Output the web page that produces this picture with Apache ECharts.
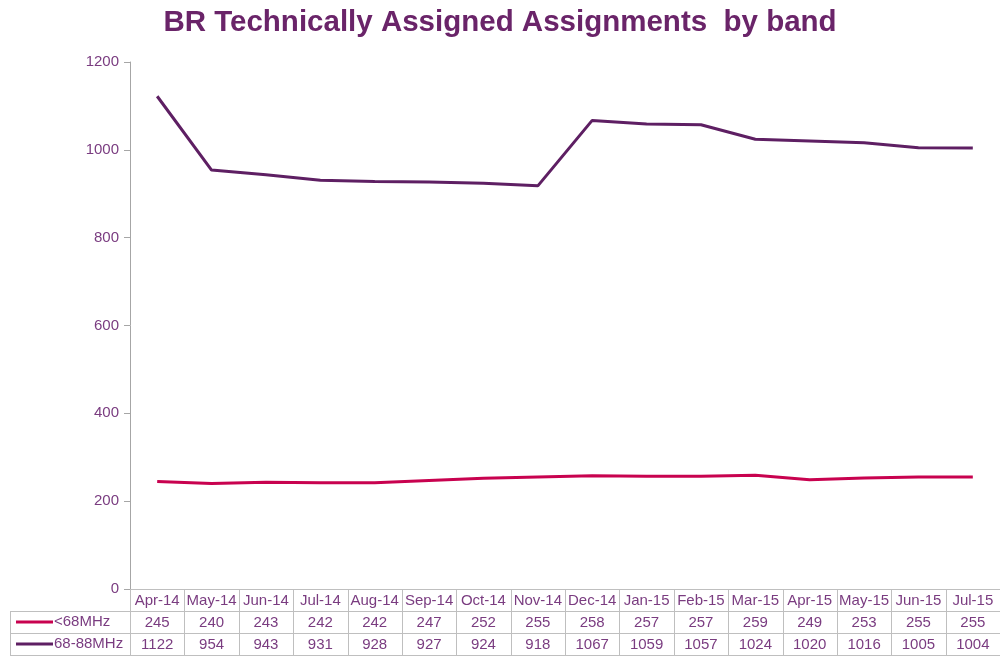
<!DOCTYPE html>
<html>
<head>
<meta charset="utf-8">
<script src="https://cdn.jsdelivr.net/npm/echarts@6/dist/echarts.min.js"></script>
<style>
  html, body { margin: 0; padding: 0; background: #fff; }
  #chart { width: 1000px; height: 657px; }
</style>
</head>
<body>
<div id="chart"></div>
<script>
// Monthly categories and assignment counts per band
const months = ['Apr-14','May-14','Jun-14','Jul-14','Aug-14','Sep-14','Oct-14','Nov-14',
                'Dec-14','Jan-15','Feb-15','Mar-15','Apr-15','May-15','Jun-15','Jul-15'];
const bandLow = [245,240,243,242,242,247,252,255,258,257,257,259,249,253,255,255];
const bandMid = [1122,954,943,931,928,927,924,918,1067,1059,1057,1024,1020,1016,1005,1004];
const seriesNames = ['<68MHz', '68-88MHz'];
const yTicks = { min: 0, max: 1200, interval: 200 };

const FONT = 'Arial, "Liberation Sans", sans-serif';
const TEXT = '#7A3C80';
const BORDER = '#BFBFBF';
const COLORS = ['#C8024F', '#5E1F63'];
const FS = 15;

const chart = echarts.init(document.getElementById('chart'), null, { renderer: 'canvas' });

const GRID = { left: 130, right: 0, top: 62, bottom: 68 };
const ROW_H = 22;

function rowAxis(values, offset) {
  return {
    type: 'category',
    gridIndex: 0,
    position: 'bottom',
    offset: offset,
    data: values.map(String),
    boundaryGap: true,
    axisLine: { show: false },
    axisTick: { show: false },
    axisLabel: { interval: 0, margin: 4, color: TEXT, fontSize: FS, fontFamily: FONT },
    splitLine: { show: false }
  };
}

chart.setOption({
  animation: false,
  backgroundColor: '#fff',
  title: {
    text: 'BR Technically Assigned Assignments  by band',
    left: 'center',
    top: 3,
    textStyle: { color: '#6A2469', fontSize: 29.5, fontWeight: 'bold', fontFamily: FONT }
  },
  grid: GRID,
  xAxis: [
    {
      type: 'category',
      data: months,
      boundaryGap: true,
      axisLine: { show: true, lineStyle: { color: BORDER, width: 1 } },
      axisTick: { show: false },
      axisLabel: { interval: 0, margin: 4, color: TEXT, fontSize: FS, fontFamily: FONT }
    },
    rowAxis(bandLow, ROW_H),
    rowAxis(bandMid, ROW_H * 2)
  ],
  yAxis: {
    type: 'value',
    min: yTicks.min,
    max: yTicks.max,
    interval: yTicks.interval,
    axisLine: { show: true, lineStyle: { color: '#A6A6A6', width: 1 } },
    axisTick: { show: true, length: 6, lineStyle: { color: '#A6A6A6' } },
    splitLine: { show: false },
    axisLabel: { color: TEXT, fontSize: FS, fontFamily: FONT, margin: 11, formatter: v => String(v) }
  },
  series: [
    {
      name: seriesNames[0], type: 'line', data: bandLow, symbol: 'none',
      lineStyle: { color: COLORS[0], width: 3 }, itemStyle: { color: COLORS[0] }
    },
    {
      name: seriesNames[1], type: 'line', data: bandMid, symbol: 'none',
      lineStyle: { color: COLORS[1], width: 3 }, itemStyle: { color: COLORS[1] }
    }
  ]
});

// Data table borders and legend keys, placed from the category axis positions
function drawTable() {
  const x0 = chart.convertToPixel({ xAxisIndex: 0 }, 0);
  const x1 = chart.convertToPixel({ xAxisIndex: 0 }, 1);
  const step = x1 - x0;
  const left = x0 - step / 2;
  const right = left + step * months.length;
  const top = chart.convertToPixel({ yAxisIndex: 0 }, yTicks.min);
  const tableLeft = 10;
  const els = [];
  const line = (xa, ya, xb, yb) => els.push({
    type: 'line', silent: true,
    shape: { x1: xa, y1: ya, x2: xb, y2: yb },
    style: { stroke: BORDER, lineWidth: 1 }
  });
  const r1 = Math.round(top + ROW_H) + 0.5;
  const r2 = Math.round(top + ROW_H * 2) + 0.5;
  const r3 = Math.round(top + ROW_H * 3) + 0.5;
  line(tableLeft, r1, right, r1);
  line(tableLeft, r2, right, r2);
  line(tableLeft, r3, right, r3);
  line(tableLeft + 0.5, r1, tableLeft + 0.5, r3);
  for (let i = 0; i <= months.length; i++) {
    const x = Math.round(left + i * step) + 0.5;
    line(x, top, x, r3);
  }
  seriesNames.forEach((name, k) => {
    const cy = top + ROW_H * (k + 1) + ROW_H / 2;
    els.push({
      type: 'line', silent: true,
      shape: { x1: 16, y1: cy, x2: 53, y2: cy },
      style: { stroke: COLORS[k], lineWidth: 3 }
    });
    els.push({
      type: 'text', silent: true,
      x: 54, y: cy,
      style: { text: name, fill: TEXT, fontSize: FS, fontFamily: FONT, verticalAlign: 'middle', align: 'left' }
    });
  });
  chart.setOption({ graphic: els });
}
drawTable();
</script>
</body>
</html>
